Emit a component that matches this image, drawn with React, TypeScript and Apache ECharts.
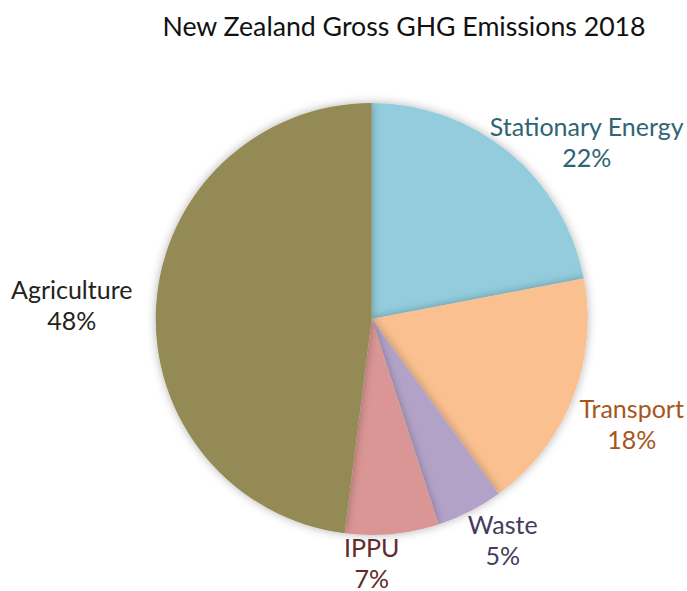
import React, { useEffect, useRef } from "react";
import * as echarts from "echarts";

const categories = ["Stationary Energy", "Transport", "Waste", "IPPU", "Agriculture"];
const values = [22, 18, 5, 7, 48];
const sliceColors = ["#93cddd", "#fac090", "#b3a2c7", "#d99694", "#948a54"];
const labelColors = ["#2f6574", "#a5561c", "#463b5c", "#65292a", "#23231c"];
const titleText = "New Zealand Gross GHG Emissions 2018";

// label block centres relative to pie centre (layout only)
const labelOffsets: [number, number][] = [
  [215, -178],
  [260, 104],
  [131, 220],
  [0, 243],
  [-300, -15],
];

const CX = 371.7;
const CY = 319;
const R = 216;

export default function App() {
  const ref = useRef<HTMLDivElement>(null);
  useEffect(() => {
    if (!ref.current) return;
    const chart = echarts.init(ref.current, undefined, { renderer: "svg" });
    chart.setOption({
      animation: false,
      backgroundColor: "#ffffff",
      title: {
        text: titleText,
        left: 399,
        top: 7,
        textAlign: "center",
        textStyle: {
          fontFamily: "Lato",
          fontWeight: "normal",
          fontSize: 26.7,
          color: "#111111",
        },
      },
      series: [
        {
          type: "pie",
          center: [CX, CY],
          radius: [0, R],
          startAngle: 90,
          clockwise: true,
          avoidLabelOverlap: false,
          data: categories.map((name, i) => ({
            name,
            value: values[i],
            itemStyle: {
              color: sliceColors[i],
              shadowBlur: 10,
              shadowColor: "rgba(0,0,0,0.3)",
            },
            label: { color: labelColors[i] },
          })),
          label: {
            show: true,
            position: "outside",
            formatter: (p: any) => `${p.name}\n${p.value}%`,
            fontFamily: "Lato",
            fontSize: 25,
            lineHeight: 31,
            align: "center",
          },
          labelLine: { show: false },
          labelLayout: (params: any) => {
            const o = labelOffsets[params.dataIndex];
            return {
              x: CX + o[0],
              y: CY + o[1],
              align: "center",
              verticalAlign: "middle",
            };
          },
          emphasis: { disabled: true },
        },
      ],
    });
    return () => chart.dispose();
  }, []);
  return (
    <div
      ref={ref}
      style={{ position: "absolute", left: 0, top: 0, width: 687, height: 591 }}
    />
  );
}
